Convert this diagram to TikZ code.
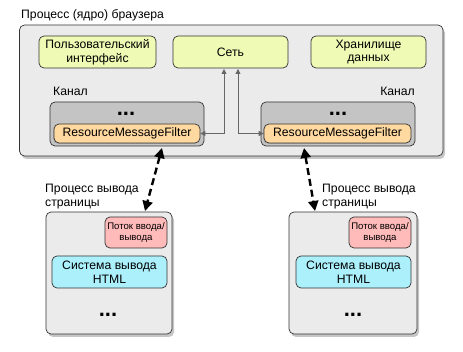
\documentclass[tikz,border=0pt]{standalone}
\usepackage{fontspec}
\setmainfont{Liberation Sans}
\usetikzlibrary{arrows.meta,shadows}
\definecolor{outerfill}{HTML}{EBEBEB}
\definecolor{greenfill}{HTML}{EFFAB4}
\definecolor{chanfill}{HTML}{C4C4C4}
\definecolor{orangefill}{HTML}{FFD9A0}
\definecolor{pinkfill}{HTML}{FFBABA}
\definecolor{cyanfill}{HTML}{ACF0FC}
\definecolor{linegray}{HTML}{666666}
\begin{document}
\begin{tikzpicture}[x=1pt,y=-1pt,
  boxstyle/.style={draw=black!80,line width=0.7pt,rounded corners=5pt},
  outerbox/.style={boxstyle,fill=outerfill,drop shadow={shadow xshift=2pt,shadow yshift=-3pt,opacity=0.45}},
  greenbox/.style={boxstyle,fill=greenfill,font=\fontsize{12.2}{13.5}\selectfont,align=center,inner sep=1pt},
  chanbox/.style={boxstyle,fill=chanfill},
  orangebox/.style={boxstyle,fill=orangefill,font=\fontsize{12.2}{13.5}\selectfont,inner sep=1pt,drop shadow={shadow xshift=-1pt,shadow yshift=-1pt,opacity=0.3}},
  pinkbox/.style={boxstyle,fill=pinkfill,font=\fontsize{9.6}{11}\selectfont,align=center},
  cyanbox/.style={boxstyle,fill=cyanfill,font=\fontsize{12.2}{13.5}\selectfont,align=center,inner sep=1pt},
  lbl/.style={font=\fontsize{12.2}{13.5}\selectfont,align=left,inner sep=1pt},
  dots/.style={font=\fontsize{22}{22}\bfseries\selectfont,inner sep=0pt},
  grayarrow/.style={draw=linegray,line width=0.8pt,{Triangle[length=5pt,width=5pt]}-{Triangle[length=5pt,width=5pt]}},
  dasharrow/.style={draw=black,line width=2.4pt,dash pattern=on 7pt off 4pt,{Triangle[length=10pt,width=10pt]}-{Triangle[length=10pt,width=10pt]}}
]
\useasboundingbox (0,0) rectangle (463,352);
% browser process
\node[lbl,anchor=west] (title) at (20,15) {Процесс (ядро) браузера};
\path[outerbox] (19.5,25) rectangle (443,156);
\node[greenbox,minimum width=117pt,minimum height=32pt] (ui) at (97.5,52) {Пользовательский\\интерфейс};
\node[greenbox,minimum width=115pt,minimum height=32pt] (net) at (230.5,52) {Сеть};
\node[greenbox,minimum width=115pt,minimum height=32pt] (store) at (368.5,52) {Хранилище\\данных};
\node[lbl,anchor=west] (chl) at (52,91) {Канал};
\node[lbl,anchor=east] (chr) at (416,91) {Канал};
\node[chanbox,minimum width=154pt,minimum height=44pt] (cl) at (127,124) {};
\node[chanbox,minimum width=154pt,minimum height=44pt] (cr) at (338,124) {};
\node[dots,anchor=base] (dl) at (126,116) {...};
\node[dots,anchor=base] (dr) at (338,116) {...};
\node[orangebox,minimum width=146pt,minimum height=19pt] (fl) at (127,133.5) {ResourceMessageFilter};
\node[orangebox,minimum width=147pt,minimum height=19pt] (fr) at (337.5,133.5) {ResourceMessageFilter};
\coordinate (nl) at (224,69);
\coordinate (nr) at (238,69);
\draw[grayarrow] (fl.east) -| (nl);
\draw[grayarrow] (fr.west) -| (nr);
% render processes
\node[lbl,anchor=north west] (rlt) at (44,183) {Процесс вывода\\страницы};
\node[lbl,anchor=north west] (rrt) at (321,183) {Процесс вывода\\страницы};
\node[outerbox,minimum width=126pt,minimum height=122pt] (rl) at (109,273) {};
\node[outerbox,minimum width=128pt,minimum height=122pt] (rr) at (353,273) {};
\node[pinkbox,minimum width=62pt,minimum height=31pt,inner sep=0pt] (pl) at (136,232.5) {Поток ввода/\\вывода};
\node[pinkbox,minimum width=62pt,minimum height=31pt,inner sep=0pt] (pr) at (380,232.5) {Поток ввода/\\вывода};
\node[cyanbox,minimum width=115pt,minimum height=32pt] (sl) at (109.5,272) {Система вывода\\HTML};
\node[cyanbox,minimum width=115pt,minimum height=32pt] (sr) at (353.5,272) {Система вывода\\HTML};
\node[dots,anchor=base] (rdl) at (108,317) {...};
\node[dots,anchor=base] (rdr) at (353,317) {...};
\coordinate (al1) at (162,148);
\coordinate (al2) at (145,211);
\coordinate (ar1) at (304,148);
\coordinate (ar2) at (315,211);
\draw[dasharrow] (al1) -- (al2);
\draw[dasharrow] (ar1) -- (ar2);
\end{tikzpicture}
\end{document}
